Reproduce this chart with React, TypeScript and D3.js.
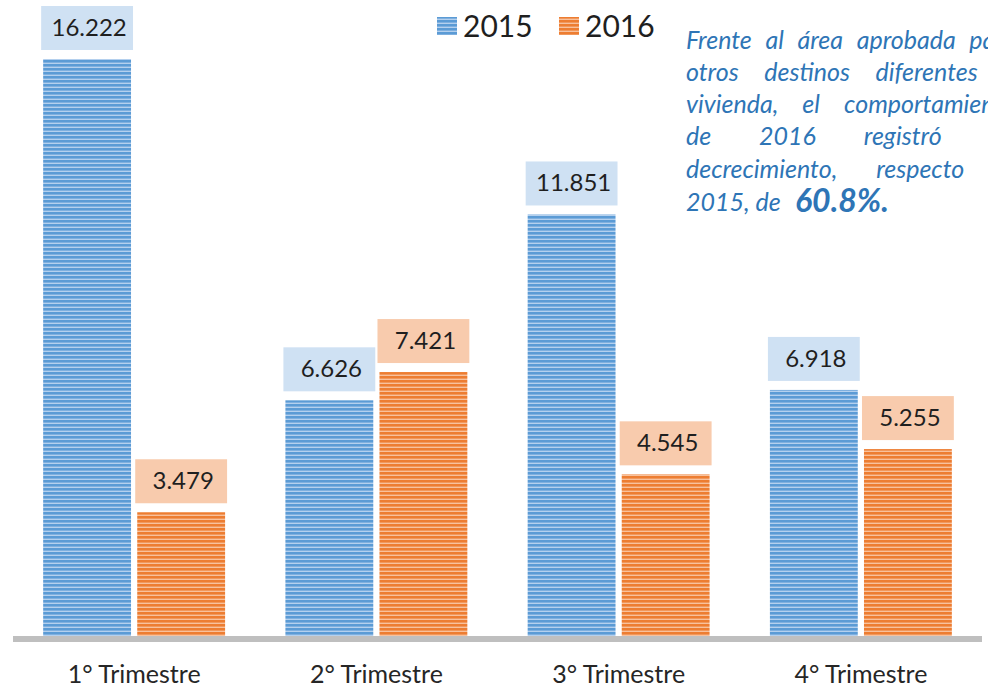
import React from "react";
import * as d3 from "d3";

const categories = ["1° Trimestre", "2° Trimestre", "3° Trimestre", "4° Trimestre"];
const seriesNames = ["2015", "2016"];
const values2015 = [16.222, 6.626, 11.851, 6.918];
const values2016 = [3.479, 7.421, 4.545, 5.255];
const valueLabels2015 = ["16.222", "6.626", "11.851", "6.918"];
const valueLabels2016 = ["3.479", "7.421", "4.545", "5.255"];
const noteLines = [
  "Frente al área aprobada para",
  "otros destinos diferentes a",
  "vivienda, el comportamiento",
  "de 2016 registró un",
  "decrecimiento, respecto a",
];
const noteLastStart = "2015, de";
const noteHighlight = "60.8%.";

const W = 988;
const H = 692;
const FONT = "Lato, 'Open Sans', sans-serif";
const BLUE = "#5b9bd5";
const BLUE_LIGHT = "#b4d0ee";
const ORANGE = "#ed7d31";
const ORANGE_LIGHT = "#f8c19c";
const BLUE_BOX = "#cfe1f3";
const ORANGE_BOX = "#f8cbad";
const NOTE_COLOR = "#2e75b6";

function measure(text: string, font: string): number {
  if (typeof document === "undefined") return text.length * 12;
  const c = document.createElement("canvas");
  const ctx = c.getContext("2d");
  if (!ctx) return text.length * 12;
  ctx.font = font;
  return ctx.measureText(text).width;
}

export default function App() {
  const x0 = d3.scaleBand<string>().domain(categories).range([13, 982]).paddingInner(0.249).paddingOuter(0.1245);
  const x1 = d3.scaleBand<string>().domain(seriesNames).range([0, x0.bandwidth()]).paddingInner(0.066).paddingOuter(0);
  const y = d3.scaleLinear().domain([0, 16.222]).range([636, 59]);

  const series = [
    { name: "2015", values: values2015, labels: valueLabels2015, fill: "url(#stripeBlue)", box: BLUE_BOX },
    { name: "2016", values: values2016, labels: valueLabels2016, fill: "url(#stripeOrange)", box: ORANGE_BOX },
  ];

  const noteX = 686;
  const noteW = 330;
  const noteSize = 25;
  const noteFont = `italic ${noteSize}px Lato`;
  const baselines = [49, 81, 113, 145, 178];

  return (
    <svg width={W} height={H} style={{ position: "absolute", left: 0, top: 0 }}>
      <defs>
        <pattern id="stripeBlue" width="8" height="4" patternUnits="userSpaceOnUse">
          <rect width="8" height="4" fill={BLUE} />
          <rect y="2.6" width="8" height="1.4" fill={BLUE_LIGHT} />
        </pattern>
        <pattern id="stripeOrange" width="8" height="4" patternUnits="userSpaceOnUse">
          <rect width="8" height="4" fill={ORANGE} />
          <rect y="2.6" width="8" height="1.4" fill={ORANGE_LIGHT} />
        </pattern>
      </defs>
      <rect width={W} height={H} fill="#fff" />

      {categories.map((cat, i) => (
        <g key={cat} transform={`translate(${x0(cat)},0)`}>
          {series.map((s) => {
            const bx = x1(s.name)!;
            const bw = x1.bandwidth();
            const top = y(s.values[i]);
            const boxH = 44;
            const boxW = bw + 4;
            const boxY = top - 9 - boxH;
            return (
              <g key={s.name}>
                <rect x={bx} y={top} width={bw} height={y(0) - top} fill={s.fill} />
                <rect x={bx + bw / 2 - boxW / 2} y={boxY} width={boxW} height={boxH} fill={s.box} />
                <text
                  x={bx + bw / 2 + 2}
                  y={boxY + boxH / 2 + 8}
                  textAnchor="middle"
                  fontFamily={FONT}
                  fontSize={24}
                  fill="#1f1f1f"
                >
                  {s.labels[i]}
                </text>
              </g>
            );
          })}
          <text
            x={x0.bandwidth() / 2}
            y={683}
            textAnchor="middle"
            fontFamily={FONT}
            fontSize={25}
            fill="#262626"
          >
            {cat}
          </text>
        </g>
      ))}

      <rect x={13} y={636} width={969} height={6} fill="#bfbfbf" />

      {/* Legend */}
      <rect x={437} y={17} width={20} height={18} fill="url(#stripeBlue)" />
      <text x={463} y={37} fontFamily={FONT} fontSize={30} fill="#1f1f1f">{seriesNames[0]}</text>
      <rect x={559} y={17} width={20} height={18} fill="url(#stripeOrange)" />
      <text x={585} y={37} fontFamily={FONT} fontSize={30} fill="#1f1f1f">{seriesNames[1]}</text>

      {/* Note, justified */}
      {noteLines.map((line, li) => {
        const words = line.split(" ");
        const widths = words.map((w) => measure(w, noteFont));
        const total = widths.reduce((a, b) => a + b, 0);
        const gap = words.length > 1 ? (noteW - total) / (words.length - 1) : 0;
        let cx = noteX;
        return (
          <g key={li}>
            {words.map((w, wi) => {
              const px = cx;
              cx += widths[wi] + gap;
              return (
                <text key={wi} x={px} y={baselines[li]} fontFamily={FONT} fontStyle="italic" fontSize={noteSize} fill={NOTE_COLOR}>
                  {w}
                </text>
              );
            })}
          </g>
        );
      })}
      <text x={noteX} y={211} fontFamily={FONT} fontStyle="italic" fontSize={noteSize} fill={NOTE_COLOR}>
        {noteLastStart}
      </text>
      <text x={795} y={212} fontFamily={FONT} fontStyle="italic" fontWeight="bold" fontSize={32} fill={NOTE_COLOR}>
        {noteHighlight}
      </text>
    </svg>
  );
}
